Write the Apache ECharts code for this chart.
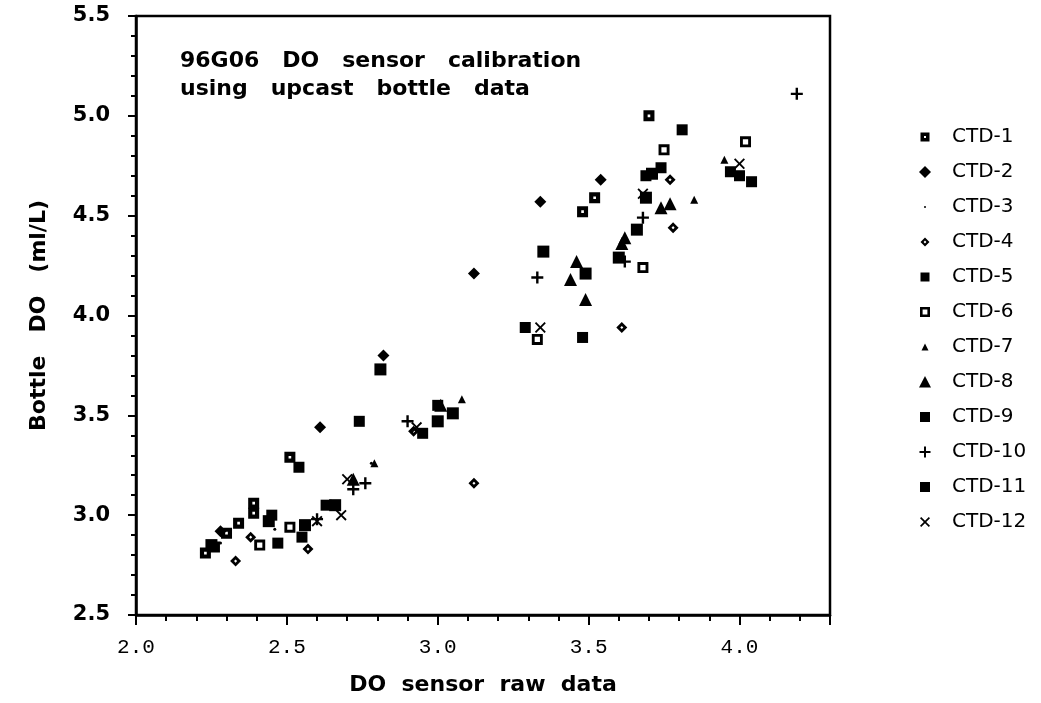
<!DOCTYPE html>
<html>
<head>
<meta charset="utf-8">
<script src="https://cdn.jsdelivr.net/npm/echarts@6/dist/echarts.min.js"></script>
<style>
html,body{margin:0;padding:0;background:#fff;}
#chart{width:1041px;height:703px;}
</style>
</head>
<body>
<div id="chart"></div>
<script>
// ---- data (x = DO sensor raw data, y = Bottle DO ml/L) ----
var seriesNames = ['CTD-1','CTD-2','CTD-3','CTD-4','CTD-5','CTD-6','CTD-7','CTD-8','CTD-9','CTD-10','CTD-11','CTD-12'];
var ctd1  = [[2.23,2.81],[2.26,2.84],[2.30,2.91],[2.34,2.96],[2.39,3.06],[2.39,3.01],[2.51,3.29],[3.48,4.52],[3.52,4.59],[3.70,5.00]];
var ctd2  = [[2.28,2.92],[2.61,3.44],[2.82,3.80],[3.12,4.21],[3.34,4.57],[3.54,4.68]];
var ctd3  = [[2.46,2.93],[2.78,3.26],[2.28,2.86]];
var ctd4  = [[2.33,2.77],[2.38,2.89],[2.57,2.83],[3.12,3.16],[3.61,3.94],[3.78,4.44],[3.77,4.68],[2.92,3.42]];
var ctd5  = [[2.47,2.86],[2.55,2.89],[2.74,3.47],[3.29,3.94],[3.48,3.89],[3.81,4.93],[4.04,4.67]];
var ctd6  = [[2.41,2.85],[2.51,2.94],[3.33,3.88],[3.68,4.24],[3.75,4.83],[4.02,4.87]];
var ctd7  = [[3.08,3.58],[3.85,4.58],[2.79,3.26],[3.95,4.78]];
var ctd8  = [[3.46,4.27],[3.49,4.08],[3.44,4.18],[3.61,4.36],[3.62,4.39],[3.74,4.54],[3.77,4.56],[3.01,3.55],[2.72,3.18]];
var ctd9  = [[2.81,3.73],[3.35,4.32],[3.49,4.21],[3.60,4.29],[3.66,4.43],[3.69,4.59],[3.71,4.71],[2.66,3.05],[2.56,2.95],[2.44,2.97],[2.25,2.85],[3.00,3.47],[3.05,3.51]];
var ctd10 = [[2.90,3.47],[3.33,4.19],[3.62,4.27],[3.68,4.49],[4.19,5.11],[2.72,3.13],[2.76,3.16],[2.60,2.98]];
var ctd11 = [[2.54,3.24],[2.45,3.00],[2.63,3.05],[2.95,3.41],[3.00,3.55],[3.69,4.70],[3.74,4.74],[3.97,4.72],[4.00,4.70]];
var ctd12 = [[2.68,3.00],[2.70,3.18],[2.93,3.44],[3.34,3.94],[3.68,4.61],[4.00,4.76],[2.60,2.97]];
var xTickLabels = ['2.0','2.5','3.0','3.5','4.0'];
var yTickLabels = ['2.5','3.0','3.5','4.0','4.5','5.0','5.5'];

// ---- symbols ----
var SYM = {
  dotSquare: 'path://M0,0H10V10H0Z M3.8,3.8V6.2H6.2V3.8Z',
  holeDiamond: 'path://M5,0L10,5L5,10L0,5Z M5,3.6L3.6,5L5,6.4L6.4,5Z',
  holeSquare: 'path://M0,0H10V10H0Z M2.6,2.6V7.4H7.4V2.6Z',
  plus: 'path://M4,0H6V4H10V6H6V10H4V6H0V4H4Z',
  cross: 'path://M1.2,0L5,3.8L8.8,0L10,1.2L6.2,5L10,8.8L8.8,10L5,6.2L1.2,10L0,8.8L3.8,5L0,1.2Z'
};
// legend icons drawn in a 0..14 box (anchored by moveTo points) so each keeps its own size
var LEG = {
  dotSquare: 'path://M0,0M14,14M2.5,2.5H11.5V11.5H2.5Z M6,6V8H8V6Z',
  diamond: 'path://M0,0M14,14M7,1L13,7L7,13L1,7Z',
  dot: 'path://M0,0M14,14M6,7A1,1 0 1,0 8,7A1,1 0 1,0 6,7Z',
  holeDiamond: 'path://M0,0M14,14M7,2.5L11.5,7L7,11.5L2.5,7Z M7,5.6L5.6,7L7,8.4L8.4,7Z',
  rect: 'path://M0,0M14,14M2.5,2.5H11.5V11.5H2.5Z',
  holeSquare: 'path://M0,0M14,14M2,2H12V12H2Z M4.6,4.6V9.4H9.4V4.6Z',
  triSmall: 'path://M0,0M14,14M7,3.5L10.5,10.5H3.5Z',
  triBig: 'path://M0,0M14,14M7,1L13,12.5H1Z',
  rect2: 'path://M0,0M14,14M2,2H12V12H2Z',
  plus: 'path://M0,0M14,14M6,1.5H8V6H12.5V8H8V12.5H6V8H1.5V6H6Z',
  cross: 'path://M0,0M14,14M3.2,2L7,5.8L10.8,2L12,3.2L8.2,7L12,10.8L10.8,12L7,8.2L3.2,12L2,10.8L5.8,7L2,3.2Z'
};
var styles = [
  {symbol: SYM.dotSquare, size: 11, icon: LEG.dotSquare},
  {symbol: 'diamond', size: 12, icon: LEG.diamond},
  {symbol: 'circle', size: 3, icon: LEG.dot},
  {symbol: SYM.holeDiamond, size: 11, icon: LEG.holeDiamond},
  {symbol: 'rect', size: 11, icon: LEG.rect},
  {symbol: SYM.holeSquare, size: 11, icon: LEG.holeSquare},
  {symbol: 'triangle', size: 8, icon: LEG.triSmall},
  {symbol: 'triangle', size: 13, icon: LEG.triBig},
  {symbol: 'rect', size: 12, icon: LEG.rect2},
  {symbol: SYM.plus, size: 12, icon: LEG.plus},
  {symbol: 'rect', size: 11, icon: LEG.rect2},
  {symbol: SYM.cross, size: 11, icon: LEG.cross}
];
var allData = [ctd1,ctd2,ctd3,ctd4,ctd5,ctd6,ctd7,ctd8,ctd9,ctd10,ctd11,ctd12];

var FONT = 'DejaVu Sans, Liberation Sans, Arial, sans-serif';
var series = seriesNames.map(function(n,i){
  return {
    name: n, type: 'scatter', data: allData[i],
    symbol: styles[i].symbol, symbolSize: styles[i].size,
    itemStyle: {color: '#000', opacity: 1},
    emphasis: {disabled: true},
    xAxisIndex: 0, yAxisIndex: 0
  };
});

var chart = echarts.init(document.getElementById('chart'), null, {renderer: 'canvas'});
chart.setOption({
  animation: false,
  backgroundColor: '#fff',
  textStyle: {fontFamily: FONT, color: '#000'},
  title: {
    text: '96G06   DO   sensor   calibration\nusing   upcast   bottle   data',
    left: 180, top: 47, padding: 0,
    textStyle: {fontFamily: FONT, fontWeight: 'bold', fontSize: 22, lineHeight: 28, color: '#000'}
  },
  grid: {left: 136, top: 16, width: 694, height: 599, show: true, borderColor: '#000', borderWidth: 2.5, backgroundColor: 'transparent'},
  legend: {
    orient: 'vertical', left: 918, top: 127, padding: 0,
    itemWidth: 14, itemHeight: 14, itemGap: 15,
    selectedMode: false,
    textStyle: {fontFamily: FONT, fontSize: 20, color: '#000', padding: [0,0,0,15]},
    data: seriesNames.map(function(n,i){ return {name: n, icon: styles[i].icon}; })
  },
  xAxis: [{
    type: 'value', min: 2.0, max: 4.3, interval: 0.5, position: 'bottom',
    name: 'DO  sensor  raw  data', nameLocation: 'middle', nameGap: 59,
    nameTextStyle: {fontFamily: FONT, fontWeight: 'bold', fontSize: 22, color: '#000'},
    axisLine: {show: true, onZero: false, lineStyle: {color: '#000', width: 2.5}},
    axisTick: {show: true, inside: false, length: 10, lineStyle: {color: '#000', width: 2}},
    axisLabel: {margin: 22, fontFamily: 'Liberation Mono, DejaVu Sans Mono, monospace', fontSize: 21, color: '#000',
      formatter: function(v){ var s = v.toFixed(1); return xTickLabels.indexOf(s) >= 0 ? s : ''; }},
    splitLine: {show: false}
  },{
    type: 'value', min: 2.0, max: 4.3, interval: 0.1, position: 'bottom',
    axisLine: {show: false, onZero: false},
    axisTick: {show: true, inside: false, length: 6, lineStyle: {color: '#000', width: 2}},
    axisLabel: {show: false}, splitLine: {show: false}
  }],
  yAxis: [{
    type: 'value', min: 2.5, max: 5.5, interval: 0.5, position: 'left',
    name: 'Bottle   DO   (ml/L)', nameLocation: 'middle', nameGap: 86, nameRotate: 90,
    nameTextStyle: {fontFamily: FONT, fontWeight: 'bold', fontSize: 22, color: '#000'},
    axisLine: {show: true, onZero: false, lineStyle: {color: '#000', width: 2.5}},
    axisTick: {show: true, inside: false, length: 8, lineStyle: {color: '#000', width: 2}},
    axisLabel: {margin: 26, fontFamily: FONT, fontWeight: 'bold', fontSize: 21, color: '#000',
      formatter: function(v){ var s = v.toFixed(1); return yTickLabels.indexOf(s) >= 0 ? s : ''; }},
    splitLine: {show: false}
  },{
    type: 'value', min: 2.5, max: 5.5, interval: 0.1, position: 'left',
    axisLine: {show: false, onZero: false},
    axisTick: {show: true, inside: false, length: 5, lineStyle: {color: '#000', width: 2}},
    axisLabel: {show: false}, splitLine: {show: false}
  }],
  series: series
});
</script>
</body>
</html>
